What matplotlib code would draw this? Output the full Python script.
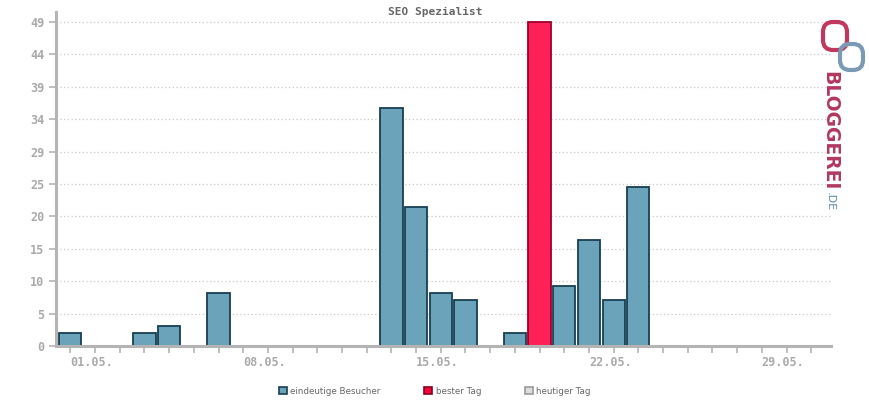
import matplotlib
matplotlib.use("Agg")
import matplotlib.pyplot as plt
import matplotlib.transforms as mtransforms
from matplotlib.patches import Patch, FancyBboxPatch
import numpy as np

# daily unique visitors, May
days = [1, 4, 5, 7, 14, 15, 16, 17, 19, 20, 21, 22, 23, 24]
visitors = [2, 2, 3, 8, 36, 21, 8, 7, 2, 49, 9, 16, 7, 24]
best_day = 20
date_labels = {1: "01.05.", 8: "08.05.", 15: "15.05.", 22: "22.05.", 29: "29.05."}
title = "SEO Spezialist"
legend_labels = ["eindeutige Besucher", "bester Tag", "heutiger Tag"]

blue, blue_edge = "#6ba3ba", "#173f50"
red, red_edge = "#ff2157", "#9a0028"
grey = "#b4b4b4"

fig = plt.figure(figsize=(8.7, 4), dpi=100)
ax = fig.add_axes([56 / 870, 54 / 400, 775 / 870, 334 / 400])

colors = [red if d == best_day else blue for d in days]
edges = [red_edge if d == best_day else blue_edge for d in days]
ax.bar(days, visitors, width=0.9, color=colors, edgecolor=edges, linewidth=1.3, zorder=2)

ax.set_xlim(0.42, 31.8)
ax.set_ylim(0, 50.5)

# y ticks: ten equal steps up to the maximum, labels rounded
ymax = max(visitors)
yt = np.arange(11) * ymax / 10
ax.set_yticks(yt)
ax.set_yticklabels([str(int(np.floor(v + 0.5 + 1e-9))) for v in yt])
ax.yaxis.grid(True, linestyle=(0, (1, 2)), color="#c8c8c8", linewidth=0.9, zorder=0)

xt = np.arange(1, 32)
ax.set_xticks(xt)
ax.set_xticklabels([date_labels.get(d, "") for d in xt])
offset = mtransforms.ScaledTranslation(-5 / 100, 0, fig.dpi_scale_trans)
for lbl in ax.get_xticklabels():
    lbl.set_horizontalalignment("left")
    lbl.set_transform(lbl.get_transform() + offset)

for s in ["top", "right"]:
    ax.spines[s].set_visible(False)
for s in ["left", "bottom"]:
    ax.spines[s].set_color(grey)
    ax.spines[s].set_linewidth(2.2)
    ax.spines[s].set_zorder(3)

ax.tick_params(axis="both", colors=grey, length=5, width=1.2, labelsize=8.5,
               labelcolor="#aaaaaa")
ax.tick_params(axis="x", pad=2)
for lbl in ax.get_xticklabels() + ax.get_yticklabels():
    lbl.set_fontfamily("DejaVu Sans Mono")
    lbl.set_fontweight("bold")

fig.text(0.5, 0.97, title, ha="center", va="center", fontsize=8,
         fontfamily="DejaVu Sans Mono", fontweight="bold", color="#666666")

handles = [Patch(facecolor=blue, edgecolor=blue_edge, linewidth=1.2),
           Patch(facecolor="#f50538", edgecolor="#8a0020", linewidth=1.2),
           Patch(facecolor="#dddddd", edgecolor="#999999", linewidth=1.2)]
fig.legend(handles, legend_labels, loc="center", bbox_to_anchor=(0.5, 0.022),
           ncol=3, frameon=False, fontsize=6.3, handlelength=0.9, handleheight=0.9,
           columnspacing=5.0, handletextpad=0.4, labelcolor="#666666")

# bloggerei logo (pixel coordinates, origin bottom-left)
px = mtransforms.IdentityTransform()
fig.patches.append(FancyBboxPatch((823, 400 - 50), 24, 28,
                                  boxstyle="round,pad=0,rounding_size=10",
                                  transform=px, fill=False,
                                  edgecolor="#c0385e", linewidth=3))
fig.patches.append(FancyBboxPatch((840, 400 - 70), 23, 26,
                                  boxstyle="round,pad=0,rounding_size=10",
                                  transform=px, fill=False,
                                  edgecolor="#7a9bb3", linewidth=3))
fig.text(0.954, 1 - 131 / 400, "BLOGGEREI", rotation=-90, ha="center", va="center",
         fontsize=13.5, fontweight="bold", color="#b2385f", fontfamily="DejaVu Sans")
fig.text(0.954, 1 - 202 / 400, ".DE", rotation=-90, ha="center", va="center",
         fontsize=8, color="#5a8aa8", fontfamily="DejaVu Sans")

fig.savefig("out.png", dpi=100)
